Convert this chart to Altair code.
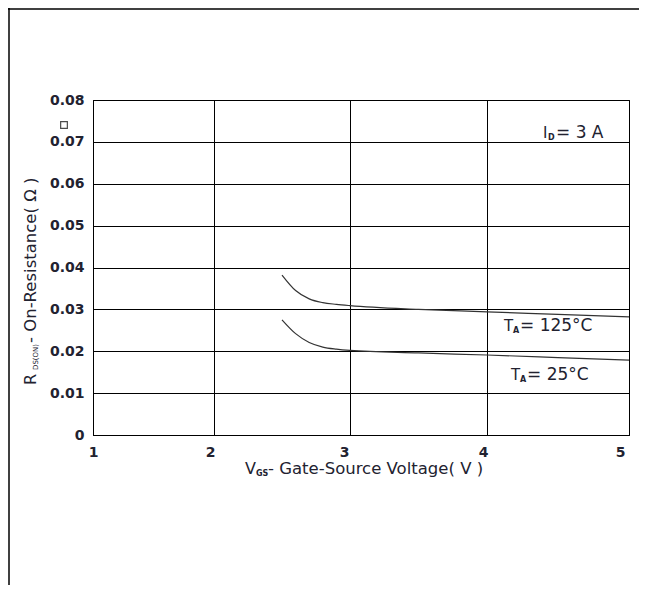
import altair as alt
import pandas as pd

# ---- data ----
vgs = [2.5, 2.6, 2.7, 2.8, 2.9, 3.0, 3.5, 4.0, 4.5, 5.0]
r_ta125 = [0.0382, 0.0345, 0.0325, 0.0316, 0.0312, 0.0309, 0.0300, 0.0294, 0.0288, 0.0282]
r_ta25 = [0.0275, 0.0242, 0.0221, 0.0210, 0.0205, 0.0202, 0.0196, 0.0191, 0.0185, 0.0179]
x_ticks = [1, 2, 3, 4, 5]
y_ticks = [0, 0.01, 0.02, 0.03, 0.04, 0.05, 0.06, 0.07, 0.08]

df = pd.DataFrame({
    "vgs": vgs + vgs,
    "r": r_ta125 + r_ta25,
    "temp": ["125"] * len(vgs) + ["25"] * len(vgs),
})

W, H = 536, 335
TXT = "#222230"
LBL_FONT = "DejaVu Sans"
TTL_FONT = "DejaVu Sans"

xscale = alt.Scale(domain=x_ticks, range=[0, 121, 257, 394, 536])
yscale = alt.Scale(domain=[0, 0.08])

x_off = {"condition": [{"test": "datum.value == 1", "value": 0},
                       {"test": "datum.value == 3", "value": -6},
                       {"test": "datum.value == 5", "value": -9}],
         "value": -4}

lines = alt.Chart(df).mark_line(
    color="#333333", strokeWidth=1.2, interpolate="monotone"
).encode(
    x=alt.X("vgs:Q", scale=xscale,
            axis=alt.Axis(values=x_ticks, title=None, grid=True, labelOffset=x_off,
                          labelPadding=10, labelFlush=False)),
    y=alt.Y("r:Q", scale=yscale,
            axis=alt.Axis(values=y_ticks, title=None, grid=True, labelPadding=9,
                          labelExpr="datum.value == 0 ? '0' : format(datum.value, '.2f')")),
    detail="temp:N",
)

one = pd.DataFrame({"k": [0]})


def txt(s, x, y, size, font=TTL_FONT, angle=0, weight="normal", color=TXT, baseline="alphabetic"):
    return alt.Chart(one).mark_text(
        text=s, fontSize=size, font=font, angle=angle, align="left",
        baseline=baseline, color=color, fontWeight=weight,
    ).encode(x=alt.value(x), y=alt.value(y))


texts = [
    # x axis title
    txt("V", 152, 374, 16),
    txt("GS", 163, 376, 8, weight="bold"),
    txt("- Gate-Source Voltage( V )", 175, 374, 16.5),
    # y axis title (rotated)
    txt("R", -57, 285, 16, angle=270),
    txt("DS(ON)", -55, 270, 7, angle=270),
    txt("- On-Resistance( Ω )", -57, 243, 16.5, angle=270),
    # annotations
    txt("I", 450, 38, 15, font=LBL_FONT),
    txt("D", 455, 40, 8, font=LBL_FONT, weight="bold"),
    txt("= 3 A", 463, 38, 17, font=LBL_FONT),
    txt("T", 411, 231, 15, font=LBL_FONT),
    txt("A", 420, 233, 8, font=LBL_FONT, weight="bold"),
    txt("= 125°C", 427, 231, 17, font=LBL_FONT),
    txt("T", 418, 280, 15, font=LBL_FONT),
    txt("A", 427, 282, 8, font=LBL_FONT, weight="bold"),
    txt("= 25°C", 434, 280, 17, font=LBL_FONT),
]

# stray small square glyph next to the 0.07 label
square = alt.Chart(one).mark_point(
    shape="square", filled=False, size=45, stroke="#000000", strokeWidth=1.2
).encode(x=alt.value(-29), y=alt.value(25))

# page frame lines
frame_v = alt.Chart(one).mark_rule(color="#000000", strokeWidth=1.5).encode(
    x=alt.value(-84), y=alt.value(-92), y2=alt.value(H + 150))
frame_h = alt.Chart(one).mark_rule(color="#000000", strokeWidth=1.5).encode(
    x=alt.value(-85), x2=alt.value(W + 10), y=alt.value(-91))

chart = alt.layer(lines, *texts, square, frame_v, frame_h).properties(
    width=W, height=H,
    autosize=alt.AutoSizeParams(type="none"),
    padding={"left": 85, "top": 92, "right": 10, "bottom": 150},
).configure_view(
    stroke="#000000", strokeWidth=1
).configure_axis(
    domainColor="#000000", domainWidth=1,
    gridColor="#000000", gridOpacity=1, gridWidth=1,
    tickSize=0,
    labelFont=LBL_FONT, labelFontSize=14, labelFontWeight="bold", labelColor=TXT,
)

chart.save("out.html", embed_options={"renderer": "svg", "actions": False})
